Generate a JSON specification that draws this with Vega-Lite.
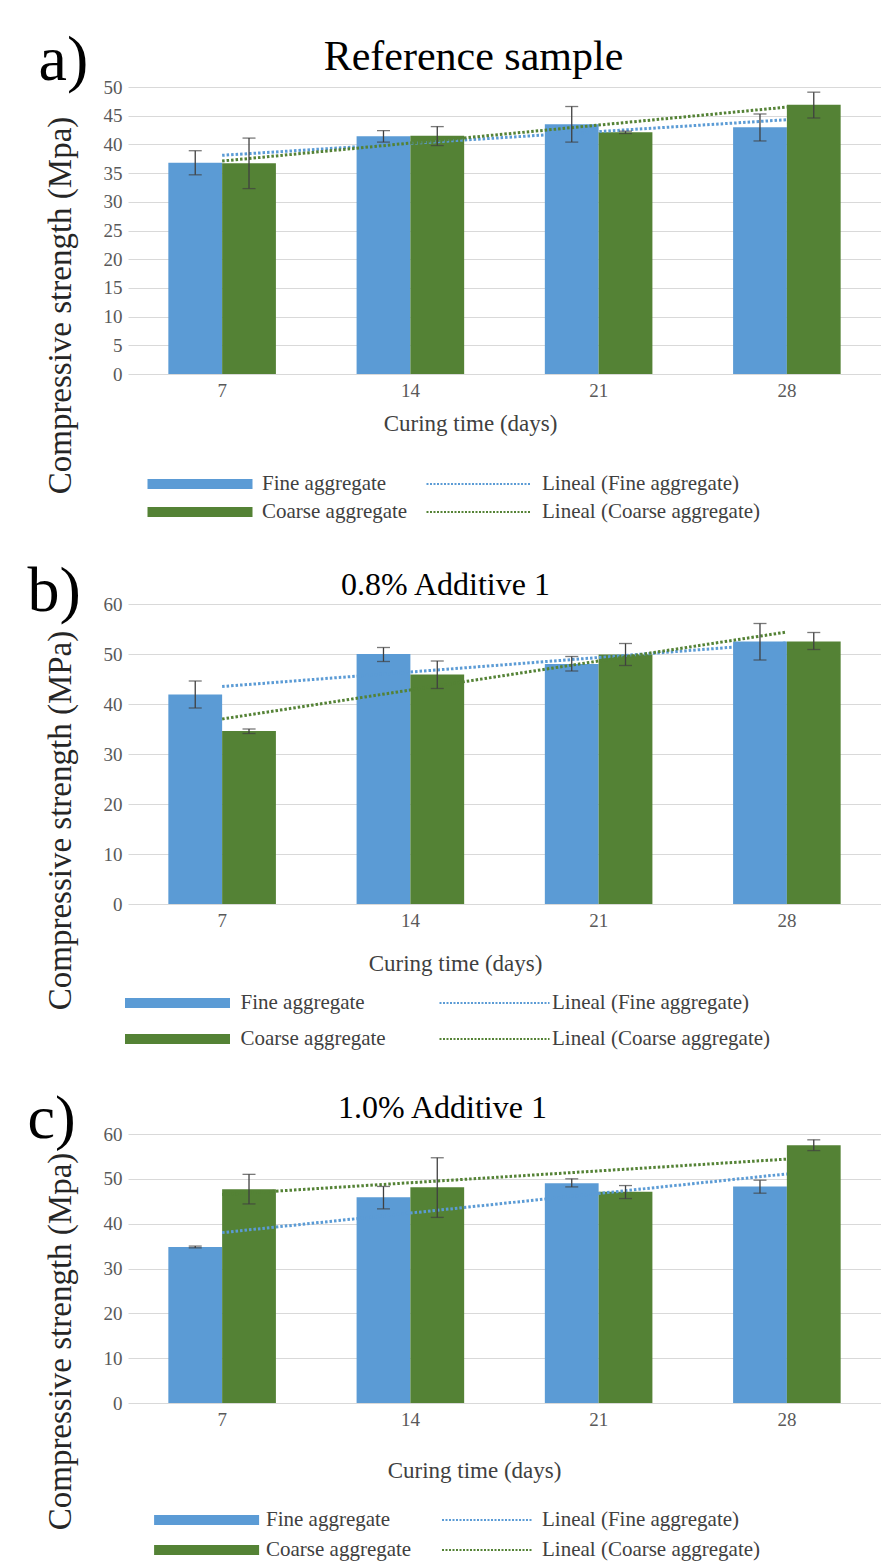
{
  "$schema": "https://vega.github.io/schema/vega-lite/v6.json",
  "padding": {"left": 27, "top": 28, "right": 0, "bottom": 0},
  "config": {
    "font": "Liberation Serif",
    "view": {"stroke": null},
    "axis": {"labelFont": "Liberation Serif", "titleFont": "Liberation Serif", "titleFontWeight": "normal"},
    "legend": {"labelFont": "Liberation Serif", "labelLimit": 0}
  },
  "datasets": {
    "bars": [
      {"panel": "a", "day": 7, "series": "Fine aggregate", "value": 36.8, "lo": 34.7, "hi": 38.9},
      {"panel": "a", "day": 7, "series": "Coarse aggregate", "value": 36.7, "lo": 32.3, "hi": 41.1},
      {"panel": "a", "day": 14, "series": "Fine aggregate", "value": 41.4, "lo": 40.4, "hi": 42.4},
      {"panel": "a", "day": 14, "series": "Coarse aggregate", "value": 41.5, "lo": 39.8, "hi": 43.1},
      {"panel": "a", "day": 21, "series": "Fine aggregate", "value": 43.5, "lo": 40.4, "hi": 46.6},
      {"panel": "a", "day": 21, "series": "Coarse aggregate", "value": 42.1, "lo": 41.9, "hi": 42.3},
      {"panel": "a", "day": 28, "series": "Fine aggregate", "value": 43.0, "lo": 40.6, "hi": 45.3},
      {"panel": "a", "day": 28, "series": "Coarse aggregate", "value": 46.9, "lo": 44.6, "hi": 49.1},
      {"panel": "b", "day": 7, "series": "Fine aggregate", "value": 41.9, "lo": 39.2, "hi": 44.6},
      {"panel": "b", "day": 7, "series": "Coarse aggregate", "value": 34.6, "lo": 34.1, "hi": 35.0},
      {"panel": "b", "day": 14, "series": "Fine aggregate", "value": 50.0, "lo": 48.5, "hi": 51.3},
      {"panel": "b", "day": 14, "series": "Coarse aggregate", "value": 45.9, "lo": 43.1, "hi": 48.6},
      {"panel": "b", "day": 21, "series": "Fine aggregate", "value": 48.0, "lo": 46.6, "hi": 49.5},
      {"panel": "b", "day": 21, "series": "Coarse aggregate", "value": 49.9, "lo": 47.7, "hi": 52.1},
      {"panel": "b", "day": 28, "series": "Fine aggregate", "value": 52.5, "lo": 48.8, "hi": 56.1},
      {"panel": "b", "day": 28, "series": "Coarse aggregate", "value": 52.5, "lo": 50.9, "hi": 54.3},
      {"panel": "c", "day": 7, "series": "Fine aggregate", "value": 34.8, "lo": 34.6, "hi": 35.0},
      {"panel": "c", "day": 7, "series": "Coarse aggregate", "value": 47.7, "lo": 44.4, "hi": 51.0},
      {"panel": "c", "day": 14, "series": "Fine aggregate", "value": 45.9, "lo": 43.3, "hi": 48.3},
      {"panel": "c", "day": 14, "series": "Coarse aggregate", "value": 48.1, "lo": 41.4, "hi": 54.7},
      {"panel": "c", "day": 21, "series": "Fine aggregate", "value": 49.0, "lo": 48.2, "hi": 50.0},
      {"panel": "c", "day": 21, "series": "Coarse aggregate", "value": 47.1, "lo": 45.6, "hi": 48.5},
      {"panel": "c", "day": 28, "series": "Fine aggregate", "value": 48.3, "lo": 46.8, "hi": 49.7},
      {"panel": "c", "day": 28, "series": "Coarse aggregate", "value": 57.5, "lo": 56.3, "hi": 58.7}
    ],
    "trends": [
      {"panel": "a", "day": 7, "trend": "Lineal (Fine aggregate)", "value": 38.1},
      {"panel": "a", "day": 28, "trend": "Lineal (Fine aggregate)", "value": 44.3},
      {"panel": "a", "day": 7, "trend": "Lineal (Coarse aggregate)", "value": 37.1},
      {"panel": "a", "day": 28, "trend": "Lineal (Coarse aggregate)", "value": 46.5},
      {"panel": "b", "day": 7, "trend": "Lineal (Fine aggregate)", "value": 43.5},
      {"panel": "b", "day": 28, "trend": "Lineal (Fine aggregate)", "value": 52.2},
      {"panel": "b", "day": 7, "trend": "Lineal (Coarse aggregate)", "value": 37.0},
      {"panel": "b", "day": 28, "trend": "Lineal (Coarse aggregate)", "value": 54.4},
      {"panel": "c", "day": 7, "trend": "Lineal (Fine aggregate)", "value": 38.0},
      {"panel": "c", "day": 28, "trend": "Lineal (Fine aggregate)", "value": 51.1},
      {"panel": "c", "day": 7, "trend": "Lineal (Coarse aggregate)", "value": 46.5},
      {"panel": "c", "day": 28, "trend": "Lineal (Coarse aggregate)", "value": 54.4}
    ]
  },
  "vconcat": [
    {
      "width": 753, "height": 287,
      "layer": [
        {
          "data": {"name": "bars"},
          "transform": [{"filter": "datum.panel === 'a'"}],
          "mark": {"type": "bar"},
          "encoding": {
            "x": {"field": "day", "type": "ordinal", "scale": {"domain": [7, 14, 21, 28], "paddingInner": 0.4286, "paddingOuter": 0.2143},
                  "axis": {"orient": "bottom", "title": "Curing time (days)", "titleX": 342, "titleY": 49, "titleBaseline": "middle", "titleAlign": "center", "titleFontSize": 23, "titleColor": "#404040", "labelFontSize": 19, "labelAngle": 0, "labelPadding": 7, "labelColor": "#595959", "ticks": false, "domain": false, "grid": false}},
            "xOffset": {"field": "series", "type": "nominal", "scale": {"domain": ["Fine aggregate", "Coarse aggregate"]}},
            "y": {"field": "value", "type": "quantitative", "scale": {"domain": [0, 50], "nice": false},
                  "axis": {"values": [0, 5, 10, 15, 20, 25, 30, 35, 40, 45, 50], "grid": true, "gridColor": "#d9d9d9", "domain": false, "ticks": false, "labelPadding": 6, "labelFontSize": 19, "labelColor": "#595959", "title": "Compressive strength (Mpa)", "titleFontSize": 33, "titleColor": "#262626", "titleAngle": 270, "titleX": -68, "titleY": 218, "titleAlign": "center", "titleBaseline": "middle"}},
            "color": {"field": "series", "type": "nominal", "scale": {"domain": ["Fine aggregate", "Coarse aggregate"], "range": ["#5B9BD5", "#548235"]},
                      "legend": {"orient": "none", "legendX": 14, "legendY": 386.5, "direction": "vertical", "title": null, "symbolType": "M-1,-1H20V1H-1Z", "symbolSize": 100, "symbolStrokeWidth": 0, "symbolOpacity": 1, "labelOffset": 99, "labelFontSize": 21, "labelColor": "#404040", "rowPadding": 6, "padding": 0}}
          }
        },
        {
          "data": {"name": "trends"},
          "transform": [{"filter": "datum.panel === 'a'"}],
          "mark": {"type": "line", "strokeWidth": 3, "strokeDash": [2.5, 2]},
          "encoding": {
            "x": {"field": "day", "type": "ordinal", "scale": {"domain": [7, 14, 21, 28], "paddingInner": 0.4286, "paddingOuter": 0.2143},
                  "axis": {"orient": "top", "title": "Reference sample", "labels": false, "ticks": false, "domain": false, "grid": false, "titleFontSize": 42, "titleColor": "#000000", "titleX": 345, "titleY": -18, "titleBaseline": "alphabetic", "titleAlign": "center"}},
            "y": {"field": "value", "type": "quantitative", "scale": {"domain": [0, 50], "nice": false}, "axis": null},
            "stroke": {"field": "trend", "type": "nominal", "scale": {"domain": ["Lineal (Fine aggregate)", "Lineal (Coarse aggregate)"], "range": ["#5B9BD5", "#548235"]},
                       "legend": {"orient": "none", "legendX": 293, "legendY": 386.5, "direction": "vertical", "title": null, "symbolType": "M-1,0H20", "symbolSize": 100, "symbolStrokeWidth": 2, "symbolDash": [2, 1.5], "symbolFillColor": "transparent", "labelOffset": 100, "labelFontSize": 21, "labelColor": "#404040", "rowPadding": 6, "padding": 0}}
          }
        },
        {
          "data": {"name": "bars"},
          "transform": [{"filter": "datum.panel === 'a'"}],
          "mark": {"type": "rule", "color": "#404040", "strokeWidth": 1.3},
          "encoding": {
            "x": {"field": "day", "type": "ordinal", "scale": {"domain": [7, 14, 21, 28], "paddingInner": 0.4286, "paddingOuter": 0.2143}, "axis": null},
            "xOffset": {"field": "series", "type": "nominal", "scale": {"domain": ["Fine aggregate", "Coarse aggregate"]}},
            "y": {"field": "lo", "type": "quantitative", "scale": {"domain": [0, 50], "nice": false}, "axis": null},
            "y2": {"field": "hi"}
          }
        },
        {
          "data": {"name": "bars"},
          "transform": [{"filter": "datum.panel === 'a'"}],
          "mark": {"type": "tick", "color": "#404040", "thickness": 1.3, "size": 13},
          "encoding": {
            "x": {"field": "day", "type": "ordinal", "scale": {"domain": [7, 14, 21, 28], "paddingInner": 0.4286, "paddingOuter": 0.2143}, "axis": null},
            "xOffset": {"field": "series", "type": "nominal", "scale": {"domain": ["Fine aggregate", "Coarse aggregate"]}},
            "y": {"field": "lo", "type": "quantitative", "scale": {"domain": [0, 50], "nice": false}, "axis": null}
          }
        },
        {
          "data": {"name": "bars"},
          "transform": [{"filter": "datum.panel === 'a'"}],
          "mark": {"type": "tick", "color": "#404040", "thickness": 1.3, "size": 13},
          "encoding": {
            "x": {"field": "day", "type": "ordinal", "scale": {"domain": [7, 14, 21, 28], "paddingInner": 0.4286, "paddingOuter": 0.2143}, "axis": null},
            "xOffset": {"field": "series", "type": "nominal", "scale": {"domain": ["Fine aggregate", "Coarse aggregate"]}},
            "y": {"field": "hi", "type": "quantitative", "scale": {"domain": [0, 50], "nice": false},
                  "axis": {"orient": "right", "title": "a)", "labels": false, "ticks": false, "domain": false, "grid": false, "titleFontSize": 64, "titleColor": "#000000", "titleAngle": 0, "titleX": -843, "titleY": -8, "titleAlign": "left", "titleBaseline": "alphabetic"}}
          }
        }
      ],
      "resolve": {"axis": {"x": "independent", "y": "independent"}}
    },
    {
      "width": 753, "height": 300,
      "layer": [
        {
          "data": {"name": "bars"},
          "transform": [{"filter": "datum.panel === 'b'"}],
          "mark": {"type": "bar"},
          "encoding": {
            "x": {"field": "day", "type": "ordinal", "scale": {"domain": [7, 14, 21, 28], "paddingInner": 0.4286, "paddingOuter": 0.2143},
                  "axis": {"orient": "bottom", "title": "Curing time (days)", "titleX": 327, "titleY": 59, "titleBaseline": "middle", "titleAlign": "center", "titleFontSize": 23, "titleColor": "#404040", "labelFontSize": 19, "labelAngle": 0, "labelPadding": 7, "labelColor": "#595959", "ticks": false, "domain": false, "grid": false}},
            "xOffset": {"field": "series", "type": "nominal", "scale": {"domain": ["Fine aggregate", "Coarse aggregate"]}},
            "y": {"field": "value", "type": "quantitative", "scale": {"domain": [0, 60], "nice": false},
                  "axis": {"values": [0, 10, 20, 30, 40, 50, 60], "grid": true, "gridColor": "#d9d9d9", "domain": false, "ticks": false, "labelPadding": 6, "labelFontSize": 19, "labelColor": "#595959", "title": "Compressive strength (MPa)", "titleFontSize": 33, "titleColor": "#262626", "titleAngle": 270, "titleX": -68, "titleY": 216, "titleAlign": "center", "titleBaseline": "middle"}},
            "color": {"field": "series", "type": "nominal", "scale": {"domain": ["Fine aggregate", "Coarse aggregate"], "range": ["#5B9BD5", "#548235"]},
                      "legend": {"orient": "none", "legendX": -8.5, "legendY": 388.5, "direction": "vertical", "title": null, "symbolType": "M-1,-1H20V1H-1Z", "symbolSize": 100, "symbolStrokeWidth": 0, "symbolOpacity": 1, "labelOffset": 100, "labelFontSize": 21, "labelColor": "#404040", "rowPadding": 14, "padding": 0}}
          }
        },
        {
          "data": {"name": "trends"},
          "transform": [{"filter": "datum.panel === 'b'"}],
          "mark": {"type": "line", "strokeWidth": 3, "strokeDash": [2.5, 2]},
          "encoding": {
            "x": {"field": "day", "type": "ordinal", "scale": {"domain": [7, 14, 21, 28], "paddingInner": 0.4286, "paddingOuter": 0.2143},
                  "axis": {"orient": "top", "title": "0.8% Additive 1", "labels": false, "ticks": false, "domain": false, "grid": false, "titleFontSize": 32, "titleColor": "#000000", "titleX": 317, "titleY": -10, "titleBaseline": "alphabetic", "titleAlign": "center"}},
            "y": {"field": "value", "type": "quantitative", "scale": {"domain": [0, 60], "nice": false}, "axis": null},
            "stroke": {"field": "trend", "type": "nominal", "scale": {"domain": ["Lineal (Fine aggregate)", "Lineal (Coarse aggregate)"], "range": ["#5B9BD5", "#548235"]},
                       "legend": {"orient": "none", "legendX": 306, "legendY": 388.5, "direction": "vertical", "title": null, "symbolType": "M-1,0H21", "symbolSize": 100, "symbolStrokeWidth": 2, "symbolDash": [2, 1.5], "symbolFillColor": "transparent", "labelOffset": 97, "labelFontSize": 21, "labelColor": "#404040", "rowPadding": 14, "padding": 0}}
          }
        },
        {
          "data": {"name": "bars"},
          "transform": [{"filter": "datum.panel === 'b'"}],
          "mark": {"type": "rule", "color": "#404040", "strokeWidth": 1.3},
          "encoding": {
            "x": {"field": "day", "type": "ordinal", "scale": {"domain": [7, 14, 21, 28], "paddingInner": 0.4286, "paddingOuter": 0.2143}, "axis": null},
            "xOffset": {"field": "series", "type": "nominal", "scale": {"domain": ["Fine aggregate", "Coarse aggregate"]}},
            "y": {"field": "lo", "type": "quantitative", "scale": {"domain": [0, 60], "nice": false}, "axis": null},
            "y2": {"field": "hi"}
          }
        },
        {
          "data": {"name": "bars"},
          "transform": [{"filter": "datum.panel === 'b'"}],
          "mark": {"type": "tick", "color": "#404040", "thickness": 1.3, "size": 13},
          "encoding": {
            "x": {"field": "day", "type": "ordinal", "scale": {"domain": [7, 14, 21, 28], "paddingInner": 0.4286, "paddingOuter": 0.2143}, "axis": null},
            "xOffset": {"field": "series", "type": "nominal", "scale": {"domain": ["Fine aggregate", "Coarse aggregate"]}},
            "y": {"field": "lo", "type": "quantitative", "scale": {"domain": [0, 60], "nice": false}, "axis": null}
          }
        },
        {
          "data": {"name": "bars"},
          "transform": [{"filter": "datum.panel === 'b'"}],
          "mark": {"type": "tick", "color": "#404040", "thickness": 1.3, "size": 13},
          "encoding": {
            "x": {"field": "day", "type": "ordinal", "scale": {"domain": [7, 14, 21, 28], "paddingInner": 0.4286, "paddingOuter": 0.2143}, "axis": null},
            "xOffset": {"field": "series", "type": "nominal", "scale": {"domain": ["Fine aggregate", "Coarse aggregate"]}},
            "y": {"field": "hi", "type": "quantitative", "scale": {"domain": [0, 60], "nice": false},
                  "axis": {"orient": "right", "title": "b)", "labels": false, "ticks": false, "domain": false, "grid": false, "titleFontSize": 64, "titleColor": "#000000", "titleAngle": 0, "titleX": -854, "titleY": 6, "titleAlign": "left", "titleBaseline": "alphabetic"}}
          }
        }
      ],
      "resolve": {"axis": {"x": "independent", "y": "independent"}}
    },
    {
      "width": 753, "height": 269,
      "layer": [
        {
          "data": {"name": "bars"},
          "transform": [{"filter": "datum.panel === 'c'"}],
          "mark": {"type": "bar"},
          "encoding": {
            "x": {"field": "day", "type": "ordinal", "scale": {"domain": [7, 14, 21, 28], "paddingInner": 0.4286, "paddingOuter": 0.2143},
                  "axis": {"orient": "bottom", "title": "Curing time (days)", "titleX": 346, "titleY": 67, "titleBaseline": "middle", "titleAlign": "center", "titleFontSize": 23, "titleColor": "#404040", "labelFontSize": 19, "labelAngle": 0, "labelPadding": 7, "labelColor": "#595959", "ticks": false, "domain": false, "grid": false}},
            "xOffset": {"field": "series", "type": "nominal", "scale": {"domain": ["Fine aggregate", "Coarse aggregate"]}},
            "y": {"field": "value", "type": "quantitative", "scale": {"domain": [0, 60], "nice": false},
                  "axis": {"values": [0, 10, 20, 30, 40, 50, 60], "grid": true, "gridColor": "#d9d9d9", "domain": false, "ticks": false, "labelPadding": 6, "labelFontSize": 19, "labelColor": "#595959", "title": "Compressive strength (Mpa)", "titleFontSize": 33, "titleColor": "#262626", "titleAngle": 270, "titleX": -68, "titleY": 207, "titleAlign": "center", "titleBaseline": "middle"}},
            "color": {"field": "series", "type": "nominal", "scale": {"domain": ["Fine aggregate", "Coarse aggregate"], "range": ["#5B9BD5", "#548235"]},
                      "legend": {"orient": "none", "legendX": 20.6, "legendY": 375.5, "direction": "vertical", "title": null, "symbolType": "M-1,-1H20V1H-1Z", "symbolSize": 100, "symbolStrokeWidth": 0, "symbolOpacity": 1, "labelOffset": 96.4, "labelFontSize": 21, "labelColor": "#404040", "rowPadding": 8, "padding": 0}}
          }
        },
        {
          "data": {"name": "trends"},
          "transform": [{"filter": "datum.panel === 'c'"}],
          "mark": {"type": "line", "strokeWidth": 3, "strokeDash": [2.5, 2]},
          "encoding": {
            "x": {"field": "day", "type": "ordinal", "scale": {"domain": [7, 14, 21, 28], "paddingInner": 0.4286, "paddingOuter": 0.2143},
                  "axis": {"orient": "top", "title": "1.0% Additive 1", "labels": false, "ticks": false, "domain": false, "grid": false, "titleFontSize": 32, "titleColor": "#000000", "titleX": 314, "titleY": -17, "titleBaseline": "alphabetic", "titleAlign": "center"}},
            "y": {"field": "value", "type": "quantitative", "scale": {"domain": [0, 60], "nice": false}, "axis": null},
            "stroke": {"field": "trend", "type": "nominal", "scale": {"domain": ["Lineal (Fine aggregate)", "Lineal (Coarse aggregate)"], "range": ["#5B9BD5", "#548235"]},
                       "legend": {"orient": "none", "legendX": 308.5, "legendY": 375.5, "direction": "vertical", "title": null, "symbolType": "M-1,0H17", "symbolSize": 100, "symbolStrokeWidth": 2, "symbolDash": [2, 1.5], "symbolFillColor": "transparent", "labelOffset": 84.5, "labelFontSize": 21, "labelColor": "#404040", "rowPadding": 8, "padding": 0}}
          }
        },
        {
          "data": {"name": "bars"},
          "transform": [{"filter": "datum.panel === 'c'"}],
          "mark": {"type": "rule", "color": "#404040", "strokeWidth": 1.3},
          "encoding": {
            "x": {"field": "day", "type": "ordinal", "scale": {"domain": [7, 14, 21, 28], "paddingInner": 0.4286, "paddingOuter": 0.2143}, "axis": null},
            "xOffset": {"field": "series", "type": "nominal", "scale": {"domain": ["Fine aggregate", "Coarse aggregate"]}},
            "y": {"field": "lo", "type": "quantitative", "scale": {"domain": [0, 60], "nice": false}, "axis": null},
            "y2": {"field": "hi"}
          }
        },
        {
          "data": {"name": "bars"},
          "transform": [{"filter": "datum.panel === 'c'"}],
          "mark": {"type": "tick", "color": "#404040", "thickness": 1.3, "size": 13},
          "encoding": {
            "x": {"field": "day", "type": "ordinal", "scale": {"domain": [7, 14, 21, 28], "paddingInner": 0.4286, "paddingOuter": 0.2143}, "axis": null},
            "xOffset": {"field": "series", "type": "nominal", "scale": {"domain": ["Fine aggregate", "Coarse aggregate"]}},
            "y": {"field": "lo", "type": "quantitative", "scale": {"domain": [0, 60], "nice": false}, "axis": null}
          }
        },
        {
          "data": {"name": "bars"},
          "transform": [{"filter": "datum.panel === 'c'"}],
          "mark": {"type": "tick", "color": "#404040", "thickness": 1.3, "size": 13},
          "encoding": {
            "x": {"field": "day", "type": "ordinal", "scale": {"domain": [7, 14, 21, 28], "paddingInner": 0.4286, "paddingOuter": 0.2143}, "axis": null},
            "xOffset": {"field": "series", "type": "nominal", "scale": {"domain": ["Fine aggregate", "Coarse aggregate"]}},
            "y": {"field": "hi", "type": "quantitative", "scale": {"domain": [0, 60], "nice": false},
                  "axis": {"orient": "right", "title": "c)", "labels": false, "ticks": false, "domain": false, "grid": false, "titleFontSize": 62, "titleColor": "#000000", "titleAngle": 0, "titleX": -854, "titleY": 3, "titleAlign": "left", "titleBaseline": "alphabetic"}}
          }
        }
      ],
      "resolve": {"axis": {"x": "independent", "y": "independent"}}
    }
  ],
  "resolve": {"scale": {"color": "independent", "stroke": "independent"}, "legend": {"color": "independent", "stroke": "independent"}},
  "spacing": 230,
  "bounds": "flush"
}
